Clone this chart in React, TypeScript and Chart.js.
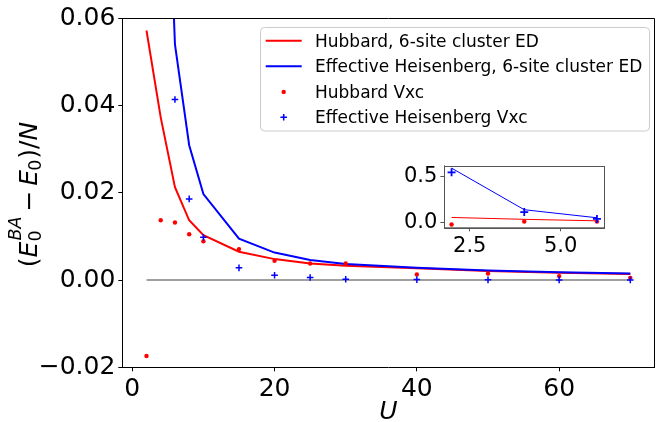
import React, { useEffect, useRef } from 'react';
import { Chart, registerables } from 'chart.js';

Chart.register(...registerables);

// ---------- data ----------
const U = [2, 4, 6, 8, 10, 15, 20, 25, 30, 40, 50, 60, 70];
const hubbardED = [0.0572, 0.0373, 0.0213, 0.0137, 0.0103, 0.0065, 0.0048, 0.0038, 0.0033, 0.0027, 0.0021, 0.0017, 0.0014];
const heisED = [0.585, 0.14, 0.054, 0.0309, 0.0197, 0.0095, 0.0063, 0.0046, 0.0037, 0.0028, 0.0022, 0.0018, 0.0015];
const hubbardVxc = [-0.0174, 0.0137, 0.0132, 0.0105, 0.0089, 0.0071, 0.0044, 0.0038, 0.0038, 0.0013, 0.0015, 0.0009, 0.0005];
const heisVxc = [0.54, 0.115, 0.0414, 0.0186, 0.0098, 0.0028, 0.0011, 0.0006, 0.0002, 0.0001, 0.00005, 0.00003, 0.00002];
const zeroLineU = [2, 70];
const zeroLineV = [0, 0];

const insetCount = 3; // inset shows U = 2, 4, 6

const mainXTicks = [0, 20, 40, 60];
const mainXTickLabels = ['0', '20', '40', '60'];
const mainYTicks = [-0.02, 0, 0.02, 0.04, 0.06];
const mainYTickLabels = ['\u22120.02', '0.00', '0.02', '0.04', '0.06'];
const insetXTicks = [2.5, 5.0];
const insetXTickLabels = ['2.5', '5.0'];
const insetYTicks = [0, 0.5];
const insetYTickLabels = ['0.0', '0.5'];

const seriesNames = [
  'Hubbard, 6-site cluster ED',
  'Effective Heisenberg, 6-site cluster ED',
  'Hubbard Vxc',
  'Effective Heisenberg Vxc',
];

// ---------- styles ----------
const RED = '#ff0000';
const BLUE = '#0000ff';
const FONT = '"DejaVu Sans", "Liberation Sans", sans-serif';

const pts = (xs: number[], ys: number[]) => xs.map((x, i) => ({ x, y: ys[i] }));

const labelFor = (vals: number[], labels: string[]) => (v: any) => {
  const i = vals.findIndex((t) => Math.abs(t - Number(v)) < 1e-9);
  return i >= 0 ? labels[i] : '';
};

const setTicks = (vals: number[]) => (scale: any) => {
  scale.ticks = vals.map((v) => ({ value: v }));
};

function drawMathYLabel(ctx: CanvasRenderingContext2D, baseX: number, centerY: number) {
  const size = 25;
  const small = 17.5;
  const norm = `${size}px ${FONT}`;
  const ital = `italic ${size}px ${FONT}`;
  const smIt = `italic ${small}px ${FONT}`;
  const sm = `${small}px ${FONT}`;
  type Seg = { t: string; italic?: boolean; sup?: string; sub?: string; gap?: number };
  const segs: Seg[] = [
    { t: '(' },
    { t: 'E', italic: true, sup: 'BA', sub: '0' },
    { t: '\u2212', gap: 5 },
    { t: 'E', italic: true, sub: '0' },
    { t: ')/' },
    { t: 'N', italic: true },
  ];
  const widthOf = (s: Seg) => {
    ctx.font = s.italic ? ital : norm;
    const w = ctx.measureText(s.t).width + 2 * (s.gap || 0);
    let sw = 0;
    if (s.sup) { ctx.font = smIt; sw = Math.max(sw, ctx.measureText(s.sup).width); }
    if (s.sub) { ctx.font = sm; sw = Math.max(sw, ctx.measureText(s.sub).width); }
    return w + sw;
  };
  const total = segs.reduce((a, s) => a + widthOf(s), 0);
  ctx.save();
  ctx.translate(baseX, centerY);
  ctx.rotate(-Math.PI / 2);
  ctx.fillStyle = '#000';
  ctx.textBaseline = 'alphabetic';
  ctx.textAlign = 'left';
  let x = -total / 2;
  for (const s of segs) {
    ctx.font = s.italic ? ital : norm;
    x += s.gap || 0;
    ctx.fillText(s.t, x, 0);
    x += ctx.measureText(s.t).width + (s.gap || 0);
    let sw = 0;
    if (s.sup) {
      ctx.font = smIt;
      ctx.fillText(s.sup, x + 1, -size * 0.66);
      sw = Math.max(sw, ctx.measureText(s.sup).width + 1);
    }
    if (s.sub) {
      ctx.font = sm;
      ctx.fillText(s.sub, x - (s.sup ? 0 : 1), size * 0.16);
      sw = Math.max(sw, ctx.measureText(s.sub).width);
    }
    x += sw;
  }
  ctx.restore();
}

function drawPlus(ctx: CanvasRenderingContext2D, x: number, y: number, r: number, color: string, lw: number) {
  ctx.save();
  ctx.strokeStyle = color;
  ctx.lineWidth = lw;
  ctx.beginPath();
  ctx.moveTo(x - r, y);
  ctx.lineTo(x + r, y);
  ctx.moveTo(x, y - r);
  ctx.lineTo(x, y + r);
  ctx.stroke();
  ctx.restore();
}

const mainDecor = {
  id: 'mainDecor',
  afterDraw(chart: any) {
    const ctx: CanvasRenderingContext2D = chart.ctx;
    const a = chart.chartArea;
    // top and right spines
    ctx.save();
    ctx.strokeStyle = '#000';
    ctx.lineWidth = 1;
    ctx.beginPath();
    ctx.moveTo(a.left, Math.round(a.top) + 0.5);
    ctx.lineTo(a.right, Math.round(a.top) + 0.5);
    ctx.lineTo(a.right, a.bottom);
    ctx.stroke();
    ctx.restore();

    // axis titles
    drawMathYLabel(ctx, 37, 195);
    ctx.save();
    ctx.fillStyle = '#000';
    ctx.font = `italic 25px ${FONT}`;
    ctx.textAlign = 'center';
    ctx.textBaseline = 'alphabetic';
    ctx.fillText('U', (a.left + a.right) / 2, 419);
    ctx.restore();

    // legend
    ctx.save();
    const bx = 260.5, by = 27.5, bw = 389, bh = 103.5;
    ctx.beginPath();
    (ctx as any).roundRect(bx, by, bw, bh, 4);
    ctx.fillStyle = 'rgba(255,255,255,0.8)';
    ctx.fill();
    ctx.strokeStyle = '#cccccc';
    ctx.lineWidth = 1;
    ctx.stroke();
    const rows = [40.7, 66.3, 91.9, 117.3];
    const hx0 = 265.7, hx1 = 301.7, hc = 283.7, tx = 315;
    ctx.lineWidth = 2;
    ctx.strokeStyle = RED;
    ctx.beginPath(); ctx.moveTo(hx0, rows[0]); ctx.lineTo(hx1, rows[0]); ctx.stroke();
    ctx.strokeStyle = BLUE;
    ctx.beginPath(); ctx.moveTo(hx0, rows[1]); ctx.lineTo(hx1, rows[1]); ctx.stroke();
    ctx.fillStyle = RED;
    ctx.beginPath(); ctx.arc(hc, rows[2], 2.2, 0, Math.PI * 2); ctx.fill();
    drawPlus(ctx, hc, rows[3], 3.3, BLUE, 1.5);
    ctx.fillStyle = '#000';
    ctx.font = `17px ${FONT}`;
    ctx.textAlign = 'left';
    ctx.textBaseline = 'alphabetic';
    seriesNames.forEach((n, i) => ctx.fillText(n, tx, rows[i] + 6));
    ctx.restore();
  },
};

const insetDecor = {
  id: 'insetDecor',
  beforeDatasetsDraw(chart: any) {
    const ctx: CanvasRenderingContext2D = chart.ctx;
    const a = chart.chartArea;
    ctx.save();
    ctx.fillStyle = '#fff';
    ctx.fillRect(a.left, a.top, a.right - a.left, a.bottom - a.top);
    ctx.restore();
  },
  afterDraw(chart: any) {
    const ctx: CanvasRenderingContext2D = chart.ctx;
    const a = chart.chartArea;
    ctx.save();
    ctx.strokeStyle = '#555';
    ctx.lineWidth = 1;
    ctx.strokeRect(Math.round(a.left) + 0.5, Math.round(a.top) + 0.5, Math.round(a.right - a.left), Math.round(a.bottom - a.top));
    ctx.restore();
  },
};

function axisOpts(min: number, max: number, ticks: number[], labels: string[], fontSize: number, color: string, fit: (s: any) => void) {
  return {
    type: 'linear' as const,
    min,
    max,
    afterBuildTicks: setTicks(ticks),
    afterFit: fit,
    ticks: {
      callback: labelFor(ticks, labels),
      autoSkip: false,
      maxRotation: 0,
      color: '#000',
      padding: 3,
      font: { family: FONT, size: fontSize },
    },
    grid: { drawOnChartArea: false, drawTicks: true, tickLength: 4, color, lineWidth: 1 },
    border: { display: true, color, width: 1 },
  };
}

export default function App() {
  const mainRef = useRef<HTMLCanvasElement>(null);
  const insetRef = useRef<HTMLCanvasElement>(null);

  useEffect(() => {
    const main = new Chart(mainRef.current as HTMLCanvasElement, {
      type: 'scatter',
      data: {
        datasets: [
          { label: 'zero', data: pts(zeroLineU, zeroLineV), showLine: true, borderColor: '#808080', borderWidth: 1.6, pointRadius: 0, order: 6 },
          { label: seriesNames[0], data: pts(U, hubbardED), showLine: true, borderColor: RED, borderWidth: 2, pointRadius: 0, order: 5 },
          { label: seriesNames[1], data: pts(U, heisED), showLine: true, borderColor: BLUE, borderWidth: 2, pointRadius: 0, order: 4 },
          { label: seriesNames[2], data: pts(U, hubbardVxc), showLine: false, pointStyle: 'circle', pointRadius: 2.2, pointBorderWidth: 0, backgroundColor: RED, borderColor: RED, order: 3 },
          { label: seriesNames[3], data: pts(U, heisVxc), showLine: false, pointStyle: 'cross', pointRadius: 3.3, pointBorderWidth: 1.5, borderColor: BLUE, backgroundColor: BLUE, order: 2 },
        ],
      } as any,
      options: {
        responsive: false,
        animation: false,
        events: [],
        layout: { padding: { top: 18.3, right: 2, left: 0, bottom: 0 } },
        plugins: { legend: { display: false }, tooltip: { enabled: false } },
        scales: {
          x: axisOpts(-1.4, 73.4, mainXTicks, mainXTickLabels, 25, '#000', (s: any) => { s.height = 54.7; }),
          y: axisOpts(-0.02, 0.06, mainYTicks, mainYTickLabels, 25, '#000', (s: any) => { s.width = 122.3; }),
        },
      } as any,
      plugins: [mainDecor],
    });

    const insetU = U.slice(0, insetCount);
    const inset = new Chart(insetRef.current as HTMLCanvasElement, {
      type: 'scatter',
      data: {
        datasets: [
          { label: seriesNames[0], data: pts(insetU, hubbardED.slice(0, insetCount)), showLine: true, borderColor: RED, borderWidth: 1, pointRadius: 0, order: 5 },
          { label: seriesNames[1], data: pts(insetU, heisED.slice(0, insetCount)), showLine: true, borderColor: BLUE, borderWidth: 1, pointRadius: 0, order: 4 },
          { label: seriesNames[2], data: pts(insetU, hubbardVxc.slice(0, insetCount)), showLine: false, pointStyle: 'circle', pointRadius: 2.2, pointBorderWidth: 0, backgroundColor: RED, borderColor: RED, order: 3 },
          { label: seriesNames[3], data: pts(insetU, heisVxc.slice(0, insetCount)), showLine: false, pointStyle: 'cross', pointRadius: 4, pointBorderWidth: 1.8, borderColor: BLUE, backgroundColor: BLUE, order: 2 },
        ],
      } as any,
      options: {
        responsive: false,
        animation: false,
        events: [],
        layout: { padding: { top: 8.3, right: 5.7, left: 0, bottom: 0 } },
        plugins: { legend: { display: false }, tooltip: { enabled: false } },
        scales: {
          x: axisOpts(1.8, 6.2, insetXTicks, insetXTickLabels, 21, '#555', (s: any) => { s.height = 32.7; }),
          y: axisOpts(-0.048, 0.612, insetYTicks, insetYTickLabels, 21, '#555', (s: any) => { s.width = 49.3; }),
        },
      } as any,
      plugins: [insetDecor],
    });

    return () => {
      main.destroy();
      inset.destroy();
    };
  }, []);

  return (
    <div style={{ position: 'fixed', left: 0, top: 0, width: 656, height: 422, overflow: 'hidden', background: '#fff' }}>
      <canvas ref={mainRef} width={660} height={422} style={{ position: 'absolute', left: 0, top: 0, width: 660, height: 422 }} />
      <canvas ref={insetRef} width={215} height={110} style={{ position: 'absolute', left: 395, top: 150, width: 215, height: 110 }} />
    </div>
  );
}
